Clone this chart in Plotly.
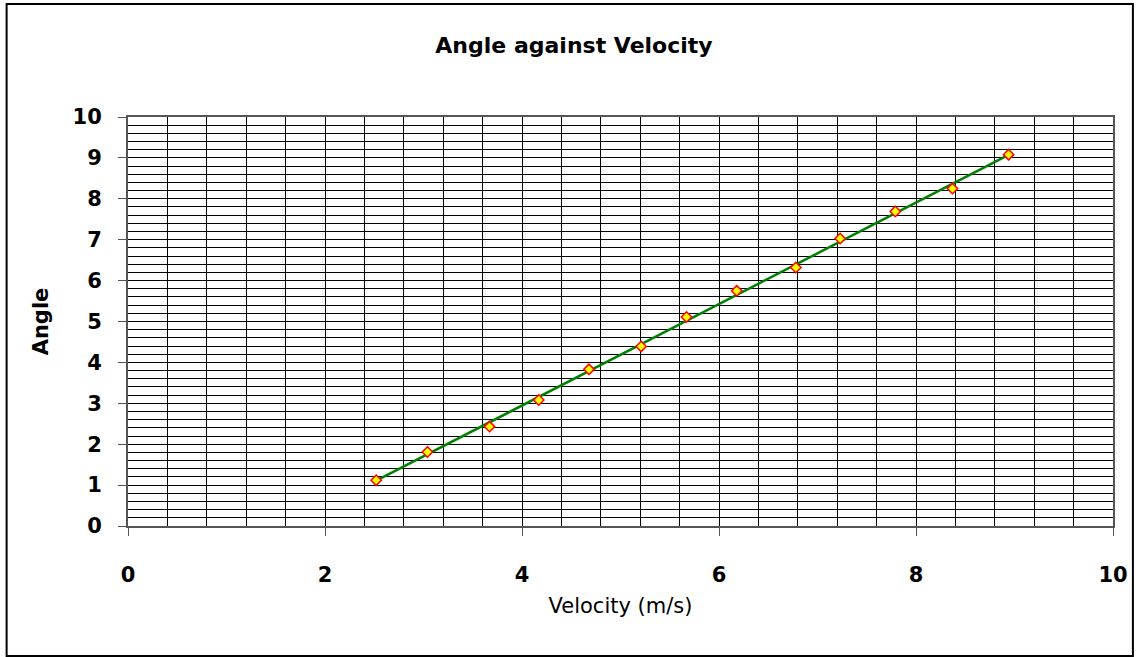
import numpy as np
import plotly.graph_objects as go

velocity = [2.52, 3.04, 3.67, 4.17, 4.68, 5.21, 5.67, 6.18, 6.78, 7.23, 7.79, 8.37, 8.94]
angle = [1.12, 1.81, 2.43, 3.08, 3.83, 4.39, 5.11, 5.75, 6.32, 7.03, 7.69, 8.25, 9.08]
x_ticks = [0, 2, 4, 6, 8, 10]
y_ticks = [0, 1, 2, 3, 4, 5, 6, 7, 8, 9, 10]

slope, intercept = np.polyfit(velocity, angle, 1)
trend_x = [min(velocity), max(velocity)]
trend_y = [slope * v + intercept for v in trend_x]

FONT = "DejaVu Sans"

fig = go.Figure()
fig.add_trace(go.Scatter(x=trend_x, y=trend_y, mode="lines",
                         line=dict(color="#008000", width=2.5), showlegend=False,
                         hoverinfo="skip"))
fig.add_trace(go.Scatter(x=velocity, y=angle, mode="markers",
                         marker=dict(symbol="diamond", size=8, color="#FFFF00",
                                     line=dict(color="#FF0000", width=1.5)),
                         showlegend=False))

W, H = 1140, 657
L, R, T, B = 128, 22, 117, 131
pw, ph = W - L - R, H - T - B

fig.update_layout(
    width=W, height=H,
    margin=dict(l=L, r=R, t=T, b=B),
    paper_bgcolor="white", plot_bgcolor="white",
    title=dict(text="Angle against Velocity", x=574 / W, xref="container", xanchor="center",
               y=1 - 45 / H, yanchor="middle", yref="container",
               font=dict(family=FONT, size=22, color="black", weight=600)),
    font=dict(family=FONT, color="black"),
    xaxis=dict(range=[0, 10], tickvals=x_ticks, ticks="outside", ticklen=8,
               tickcolor="#555", tickwidth=1,
               showgrid=True, gridcolor="black", gridwidth=1,
               minor=dict(dtick=0.4, showgrid=True, gridcolor="black", gridwidth=1, ticks=""),
               showline=True, linecolor="#555", linewidth=2, mirror=True,
               zeroline=False, ticklabelstandoff=21,
               tickfont=dict(family=FONT, size=21, color="black", weight="bold"),
               title=dict(text="Velocity (m/s)", standoff=12,
                          font=dict(family=FONT, size=21, color="black"))),
    yaxis=dict(range=[0, 10], tickvals=y_ticks, ticks="outside", ticklen=8,
               tickcolor="#555", tickwidth=1,
               showgrid=True, gridcolor="black", gridwidth=1,
               minor=dict(dtick=0.2, showgrid=True, gridcolor="black", gridwidth=1, ticks=""),
               showline=True, linecolor="#555", linewidth=2, mirror=True,
               zeroline=False, ticklabelstandoff=12,
               tickfont=dict(family=FONT, size=21, color="black", weight="bold"),
               title=dict(text="Angle", standoff=18,
                          font=dict(family=FONT, size=21, color="black", weight="bold"))),
)

# outer chart frame
fig.add_shape(type="rect", xref="paper", yref="paper",
              x0=(6 - L) / pw, x1=(1138 - L) / pw,
              y0=(H - 656 - B) / ph, y1=(H - 4 - B) / ph,
              line=dict(color="black", width=2), fillcolor="rgba(0,0,0,0)", layer="below")

fig.write_html("out.html")
